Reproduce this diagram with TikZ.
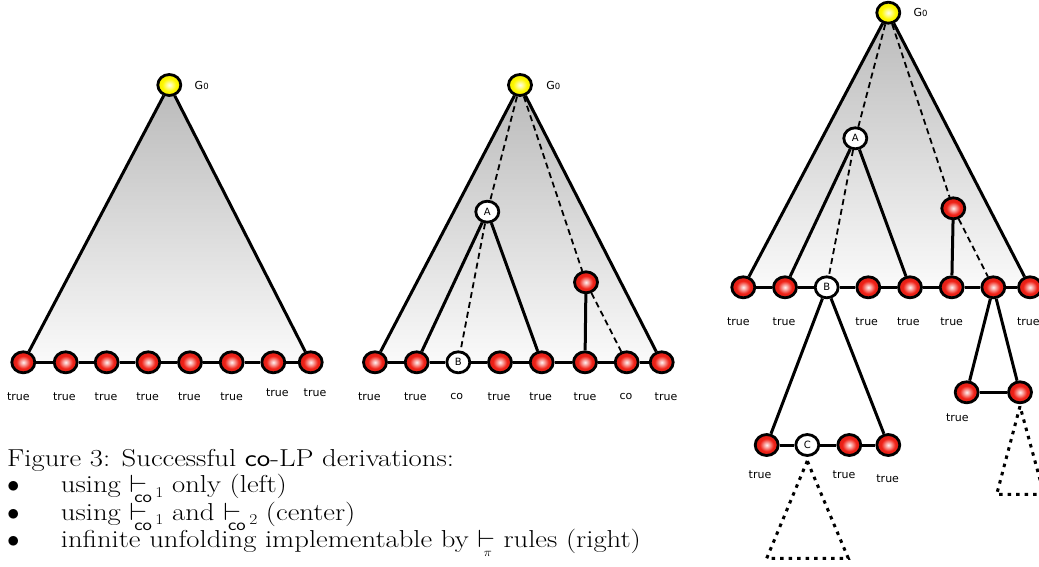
\documentclass[tikz,border=0pt]{standalone}
\usepackage{graphicx}
\usepackage{fontspec}
\newfontfamily\labfont{DejaVu Sans}
\usetikzlibrary{shapes.geometric}
\pgfdeclarelayer{background}
\pgfsetlayers{background,main}
\definecolor{nodered}{RGB}{240,34,24}
\definecolor{nodeyel}{RGB}{255,248,0}
\definecolor{triTop}{RGB}{186,186,186}
\definecolor{triBot}{RGB}{250,250,250}
\pgfdeclareverticalshading{trishade}{100bp}{color(0bp)=(triBot); color(25bp)=(triBot); color(75bp)=(triTop); color(100bp)=(triTop)}
\pgfdeclareradialshading{redball}{\pgfpoint{0bp}{0bp}}{color(0bp)=(white!94!nodered); color(4bp)=(white!70!nodered); color(15bp)=(nodered); color(25bp)=(nodered!90!black); color(50bp)=(nodered!90!black)}
\pgfdeclareradialshading{yelball}{\pgfpoint{0bp}{0bp}}{color(0bp)=(white!90!nodeyel); color(4bp)=(white!70!nodeyel); color(15bp)=(nodeyel); color(25bp)=(nodeyel!95!black); color(50bp)=(nodeyel!95!black)}
\newcommand{\gz}{G{\fontsize{8.5}{8.5}\selectfont 0}}
\newcommand{\vdco}[1]{$\vdash$\kern-0.45em\lower10pt\hbox{\sffamily\fontsize{17}{17}\selectfont co}\kern0.12em\lower4.5pt\hbox{\fontsize{15}{15}\selectfont #1}}
\newcommand{\vdpi}{$\vdash$\kern-0.4em\lower9pt\hbox{\fontsize{13}{13}\selectfont$\pi$}\kern0.1em}
\tikzset{
  ball/.style={ellipse, draw=black, line width=2.8pt, minimum width=23pt, minimum height=21pt, inner sep=0pt},
  rnode/.style={ball, shading=redball},
  ynode/.style={ball, shading=yelball},
  wnode/.style={ball, fill=white, font=\labfont\fontsize{10}{10}\selectfont},
  lab/.style={font=\labfont\fontsize{11}{11}\selectfont, inner sep=0pt},
  edge/.style={line width=3pt},
  dashedge/.style={line width=1.8pt, dash pattern=on 6pt off 4pt},
  dotedge/.style={line width=3pt, dash pattern=on 3.5pt off 5pt},
  capt/.style={font=\fontsize{24.5}{29}\selectfont, inner sep=0pt, anchor=base west},
}
\newcommand{\sx}[1]{\scalebox{1.17}[1]{#1}}
\begin{document}
\begin{tikzpicture}[x=1pt,y=-1pt]
\useasboundingbox (0,0) rectangle (1039,567);

% ---------------- left tree
\node[ynode] (Lg) at (169.3,85) {};
\node[lab] (Lgl) at (201.7,85) {\gz};
\foreach \x [count=\i] in {23.3,65.7,106.7,148.3,190,231.7,273.3,310.7}
  \node[rnode] (L\i) at (\x,362.3) {};
\begin{pgfonlayer}{background}
  \shade[shading=trishade] (Lg.center) -- (L1.center) -- (L8.center) -- cycle;
\end{pgfonlayer}
\draw[edge] (Lg) -- (L1);
\draw[edge] (Lg) -- (L8);
\foreach \i/\j in {1/2,2/3,3/4,4/5,5/6,6/7,7/8}
  \draw[edge] (L\i) -- (L\j);
\foreach \x/\y [count=\i] in {18.3/396.7,64.3/396.7,106/396.7,147.7/396.7,189.3/396.7,231.7/396.7,277.3/393,315/393}
  \node[lab] (Ll\i) at (\x,\y) {true};

% ---------------- middle tree
\node[ynode] (Mg) at (520,85) {};
\node[lab] (Mgl) at (553.3,85) {\gz};
\node[wnode] (MA) at (487.3,211.7) {A};
\node[rnode] (M1) at (375,362.3) {};
\node[rnode] (M2) at (416.7,362.3) {};
\node[wnode] (M3) at (458.3,362.3) {B};
\node[rnode] (M4) at (500,362.3) {};
\node[rnode] (M5) at (541.7,362.3) {};
\node[rnode] (M6) at (585,362.3) {};
\node[rnode] (M7) at (626.7,362.3) {};
\node[rnode] (M8) at (661.7,362.3) {};
\node[rnode] (Mr) at (586,282.3) {};
\begin{pgfonlayer}{background}
  \shade[shading=trishade] (Mg.center) -- (M1.center) -- (M8.center) -- cycle;
\end{pgfonlayer}
\draw[edge] (Mg) -- (M1);
\draw[edge] (Mg) -- (M8);
\draw[edge] (MA) -- (M2);
\draw[edge] (MA) -- (M5);
\draw[edge] (Mr) -- (M6);
\draw[dashedge] (Mg) -- (MA);
\draw[dashedge] (MA) -- (M3);
\draw[dashedge] (Mg) -- (Mr);
\draw[dashedge] (Mr) -- (M7);
\foreach \i/\j in {1/2,2/3,3/4,4/5,5/6,6/7,7/8}
  \draw[edge] (M\i) -- (M\j);
\foreach \x/\t [count=\i] in {369.3/true,415.3/true,456.7/co,499/true,540.7/true,585/true,626/co,666/true}
  \node[lab] (Ml\i) at (\x,396.7) {\t};

% ---------------- right tree
\node[ynode] (Rg) at (888.3,12.7) {};
\node[lab] (Rgl) at (920.5,12.7) {\gz};
\node[wnode] (RA) at (855.3,138.3) {A};
\node[rnode] (R1) at (743.3,287.3) {};
\node[rnode] (R2) at (785,287.3) {};
\node[wnode] (R3) at (826.7,287.3) {B};
\node[rnode] (R4) at (868.3,287.3) {};
\node[rnode] (R5) at (910,287.3) {};
\node[rnode] (R6) at (951.7,287.3) {};
\node[rnode] (R7) at (993.3,287.3) {};
\node[rnode] (R8) at (1030,287.3) {};
\node[rnode] (Rr) at (953.3,208.3) {};
\begin{pgfonlayer}{background}
  \shade[shading=trishade] (Rg.center) -- (R1.center) -- (R8.center) -- cycle;
\end{pgfonlayer}
\draw[edge] (Rg) -- (R1);
\draw[edge] (Rg) -- (R8);
\draw[edge] (RA) -- (R2);
\draw[edge] (RA) -- (R5);
\draw[edge] (Rr) -- (R6);
\draw[dashedge] (Rg) -- (RA);
\draw[dashedge] (RA) -- (R3);
\draw[dashedge] (Rg) -- (Rr);
\draw[dashedge] (Rr) -- (R7);
\foreach \i/\j in {1/2,2/3,3/4,4/5,5/6,6/7,7/8}
  \draw[edge] (R\i) -- (R\j);
\foreach \x [count=\i] in {738.3,784,866.7,908.3,951.7,1028.3}
  \node[lab] (Rl\i) at (\x,321.7) {true};

% subtree under B
\node[rnode] (S1) at (766.7,445) {};
\node[wnode] (S2) at (807.3,445) {C};
\node[rnode] (S3) at (849.3,445) {};
\node[rnode] (S4) at (888.3,445) {};
\draw[edge] (R3) -- (S1);
\draw[edge] (R3) -- (S4);
\draw[edge] (S1) -- (S2);
\draw[edge] (S2) -- (S3);
\draw[edge] (S3) -- (S4);
\node[lab] (Sl1) at (760,474.3) {true};
\node[lab] (Sl3) at (844,474.3) {true};
\node[lab] (Sl4) at (887.7,479) {true};
\coordinate (cL) at (766.7,558.3);
\coordinate (cR) at (848.3,558.3);
\draw[dotedge] ([yshift=-4pt]S2.south) -- (cL) -- (cR) -- cycle;

% subtree under 7th node
\node[rnode] (T1) at (966.7,392.3) {};
\node[rnode] (T2) at (1020,392.3) {};
\draw[edge] (R7) -- (T1);
\draw[edge] (R7) -- (T2);
\draw[edge] (T1) -- (T2);
\node[lab] (Tl1) at (957.3,417.7) {true};
\coordinate (dL) at (996.7,494.3);
\coordinate (dR) at (1044,494.3);
\draw[dotedge] ([yshift=-2pt]T2.south) -- (dL) -- (dR) -- cycle;

% ---------------- caption
\node[capt] (cap) at (7,466) {\sx{Figure 3: Successful \textsf{co}-LP derivations:}};
\node[capt] (b1) at (7,492.7) {$\bullet$};
\node[capt] (c1) at (60.7,492.7) {\sx{using \vdco{1} only (left)}};
\node[capt] (b2) at (7,520) {$\bullet$};
\node[capt] (c2) at (60.7,520) {\sx{using \vdco{1} and \vdco{2} (center)}};
\node[capt] (b3) at (7,547) {$\bullet$};
\node[capt] (c3) at (60.7,547) {\sx{infinite unfolding implementable by \vdpi{} rules (right)}};
\end{tikzpicture}
\end{document}
